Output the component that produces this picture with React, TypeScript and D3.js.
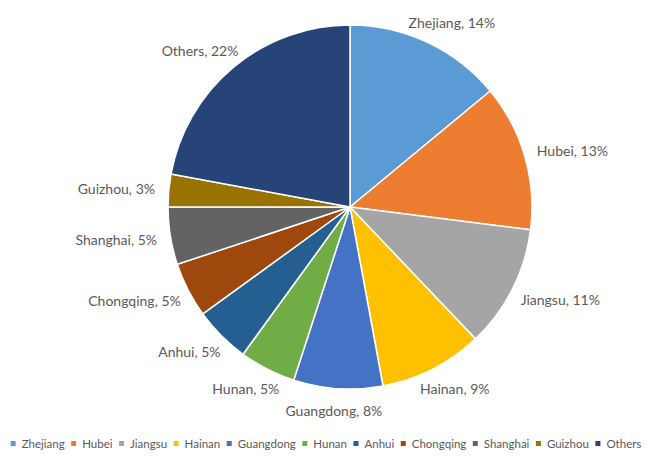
import { useEffect, useRef } from 'react'
import * as d3 from 'd3'

const provinces = [
  'Zhejiang', 'Hubei', 'Jiangsu', 'Hainan', 'Guangdong', 'Hunan',
  'Anhui', 'Chongqing', 'Shanghai', 'Guizhou', 'Others',
]
const shares = [14.0, 13.0, 10.9, 9.2, 7.9, 5.0, 5.0, 4.9, 5.1, 2.9, 22.1]
const colors = [
  '#5B9BD5', '#ED7D31', '#A5A5A5', '#FFC000', '#4472C4', '#70AD47',
  '#255E91', '#9E480E', '#636363', '#997300', '#264478',
]

const W = 653
const H = 456
const FONT = 'Lato, "Open Sans", sans-serif'

export default function App() {
  const svgRef = useRef<SVGSVGElement>(null)

  useEffect(() => {
    if (!svgRef.current) return
    const svg = d3.select(svgRef.current)
    svg.selectAll('*').remove()

    const cx = 350
    const cy = 207
    const r = 182

    const rows = provinces.map((name, i) => ({ name, value: shares[i], color: colors[i] }))
    const total = d3.sum(shares)

    const pie = d3.pie<(typeof rows)[number]>().value((d) => d.value).sort(null)
    const arcs = pie(rows)
    const arc = d3.arc<d3.PieArcDatum<(typeof rows)[number]>>().innerRadius(0).outerRadius(r)

    const g = svg.append('g').attr('transform', `translate(${cx},${cy})`)

    g.selectAll('path')
      .data(arcs)
      .enter()
      .append('path')
      .attr('d', arc)
      .attr('fill', (d) => d.data.color)
      .attr('stroke', '#fff')
      .attr('stroke-width', 1.5)
      .attr('stroke-linejoin', 'round')

    // outside-end data labels
    const labelH = 16
    const gap = 14
    arcs.forEach((d) => {
      const a = (d.startAngle + d.endAngle) / 2
      const s = Math.sin(a)
      const c = Math.cos(a)
      const t = g
        .append('text')
        .attr('font-family', FONT)
        .attr('font-size', '14px')
        .attr('fill', '#595959')
        .attr('text-anchor', 'middle')
        .attr('dominant-baseline', 'central')
        .text(`${d.data.name}, ${Math.round((d.data.value / total) * 100)}%`)
      const w = (t.node() as SVGTextElement).getComputedTextLength()
      const x = (r + gap) * s + (s * w) / 2
      const y = -(r + gap) * c - (c * labelH) / 2
      t.attr('x', x).attr('y', y)
    })

    // legend
    const legend = svg.append('g')
    const sq = 5
    const sqGap = 6
    const itemGap = 6.5
    let x = 0
    rows.forEach((d) => {
      const item = legend.append('g').attr('transform', `translate(${x},0)`)
      item
        .append('rect')
        .attr('x', 0)
        .attr('y', -sq / 2)
        .attr('width', sq)
        .attr('height', sq)
        .attr('fill', d.color)
      const t = item
        .append('text')
        .attr('x', sq + sqGap)
        .attr('y', 0)
        .attr('dominant-baseline', 'central')
        .attr('font-family', FONT)
        .attr('font-size', '11.5px')
        .attr('fill', '#595959')
        .text(d.name)
      x += sq + sqGap + (t.node() as SVGTextElement).getComputedTextLength() + itemGap
    })
    const legendW = x - itemGap
    legend.attr('transform', `translate(${326 - legendW / 2},443.5)`)
  }, [])

  return (
    <svg
      ref={svgRef}
      width={W}
      height={H}
      viewBox={`0 0 ${W} ${H}`}
      style={{ position: 'absolute', left: 0, top: 0, background: '#fff' }}
    />
  )
}
